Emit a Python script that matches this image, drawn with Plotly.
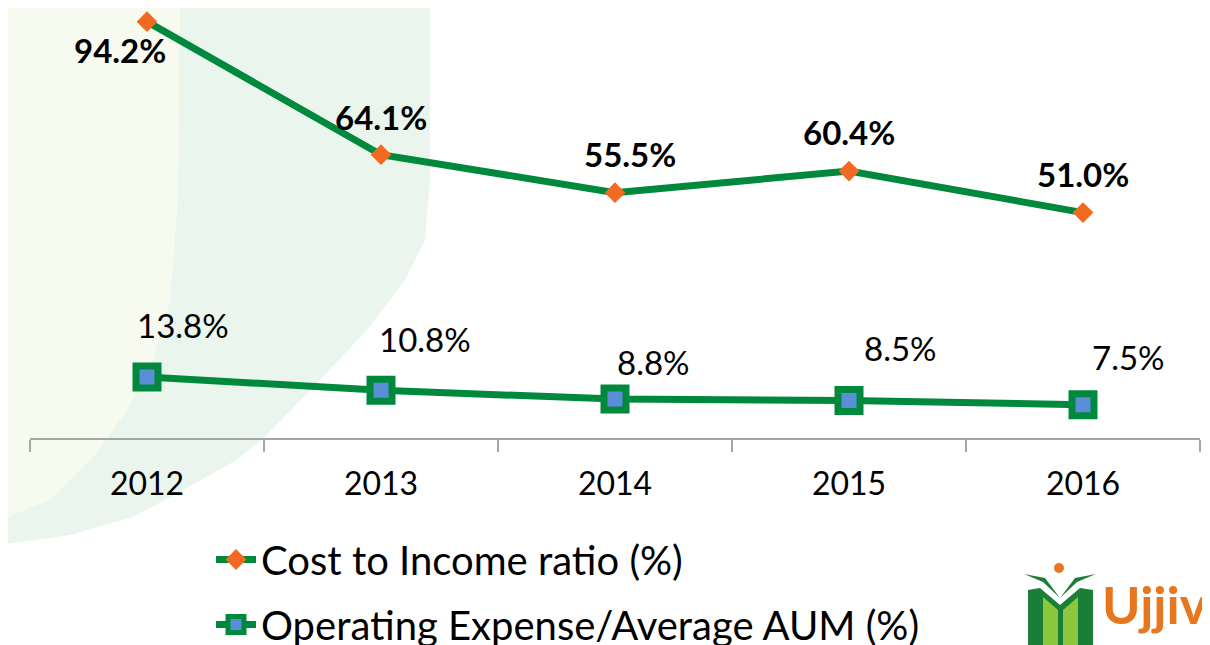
import plotly.graph_objects as go

years = ["2012", "2013", "2014", "2015", "2016"]
cost_to_income = [94.2, 64.1, 55.5, 60.4, 51.0]
opex_aum = [13.8, 10.8, 8.8, 8.5, 7.5]
series_names = ["Cost to Income ratio (%)", "Operating Expense/Average AUM (%)"]

cost_label_offsets = [(-27, -28), (0, 38), (15, 39), (0, 39), (0, 39)]
opex_label_offsets = [(36, 52), (44, 51), (38, 37), (51, 52), (45, 48)]

GREEN = "#00893C"
ORANGE = "#F26A21"
BLUE = "#5A8ED6"
FONT = "Lato"

# page body has an 8px margin; work in page pixel coords and shift
OFF = 8
W, H = 1210 - OFF, 645 - OFF
PL, PR, PT, PB = 30, 1200, 8, 438  # plot area in page pixels
L, R, T, B = PL - OFF, (W + OFF) - PR, PT - OFF, (H + OFF) - PB
YMAX = (PB - PT) / 4.42


def px(x):
    return (x - PL) / (PR - PL)


def py(y):
    return (PB - y) / (PB - PT)


fig = go.Figure()
fig.add_trace(go.Scatter(
    x=years, y=cost_to_income, name=series_names[0], mode="lines+markers",
    line=dict(color=GREEN, width=7),
    marker=dict(symbol="diamond", size=16, color=ORANGE, line=dict(width=0)),
    legendgroup="a",
))
fig.add_trace(go.Scatter(
    x=years, y=opex_aum, name=series_names[1], mode="lines+markers",
    line=dict(color=GREEN, width=7),
    marker=dict(symbol="square", size=22, color=BLUE, line=dict(color=GREEN, width=7)),
    legendgroup="b",
))

annotations = []
for i, (v, (dx, dy)) in enumerate(zip(cost_to_income, cost_label_offsets)):
    annotations.append(dict(x=i, y=v, xref="x", yref="y", text=f"<b>{v:.1f}%</b>",
                            showarrow=False, xshift=dx, yshift=dy,
                            font=dict(family=FONT, size=33, color="black")))
for i, (v, (dx, dy)) in enumerate(zip(opex_aum, opex_label_offsets)):
    annotations.append(dict(x=i, y=v, xref="x", yref="y", text=f"{v:.1f}%",
                            showarrow=False, xshift=dx, yshift=dy,
                            font=dict(family=FONT, size=33, color="black")))

# logo text (partially cut at right edge)
annotations.append(dict(x=px(1100), y=py(604), xref="paper", yref="paper", xanchor="left",
                        yanchor="middle", text="<b>Ujjivan</b>", showarrow=False,
                        font=dict(family=FONT, size=52, color="#E8761E")))
annotations.append(dict(x=px(1102), y=py(638), xref="paper", yref="paper", xanchor="left",
                        yanchor="top", text="<b>Build a Better Life</b>", showarrow=False,
                        font=dict(family=FONT, size=16, color="#E8761E")))

shapes = []


def path_from(points):
    return "M " + " L ".join(f"{px(x)},{py(y)}" for x, y in points) + " Z"


mint = [(0, 0), (430, 0), (430, 180), (425, 240), (405, 280), (367, 330), (320, 380),
        (263, 439), (233, 462), (180, 492), (133, 517), (70, 535), (0, 545)]
shapes.append(dict(type="path", xref="paper", yref="paper", path=path_from(mint),
                   fillcolor="#EAF5EE", line=dict(width=0), layer="below"))
pale = [(0, 0), (180, 0), (178, 200), (170, 300), (150, 370), (127, 410), (95, 455),
        (50, 500), (0, 520)]
shapes.append(dict(type="path", xref="paper", yref="paper", path=path_from(pale),
                   fillcolor="#F7FBEF", line=dict(width=0), layer="below"))

# logo icon
DG, LG = "#1B7E36", "#8DC63F"
shapes.append(dict(type="path", xref="paper", yref="paper",
                   path=path_from([(1028, 590), (1040, 588), (1060, 605), (1080, 588),
                                   (1093, 590), (1093, 650), (1028, 650)]),
                   fillcolor=DG, line=dict(width=0)))
shapes.append(dict(type="path", xref="paper", yref="paper",
                   path=path_from([(1043, 597), (1058, 610), (1058, 650), (1043, 650)]),
                   fillcolor=LG, line=dict(width=0)))
shapes.append(dict(type="path", xref="paper", yref="paper",
                   path=path_from([(1078, 597), (1063, 610), (1063, 650), (1078, 650)]),
                   fillcolor=LG, line=dict(width=0)))
shapes.append(dict(type="path", xref="paper", yref="paper",
                   path=path_from([(1024, 574), (1045, 578), (1060, 598), (1043, 582)]),
                   fillcolor=DG, line=dict(width=0)))
shapes.append(dict(type="path", xref="paper", yref="paper",
                   path=path_from([(1096, 574), (1075, 578), (1060, 598), (1077, 582)]),
                   fillcolor=DG, line=dict(width=0)))
shapes.append(dict(type="circle", xref="paper", yref="paper",
                   x0=px(1054), x1=px(1064), y0=py(563), y1=py(573),
                   fillcolor="#E8761E", line=dict(width=0)))

fig.update_layout(
    width=W, height=H,
    margin=dict(l=L, r=R, t=T, b=B, pad=0, autoexpand=False),
    paper_bgcolor="white", plot_bgcolor="rgba(0,0,0,0)",
    showlegend=True,
    legend=dict(x=px(211), y=py(527), xanchor="left", yanchor="top",
                orientation="v", font=dict(family=FONT, size=40, color="black"),
                bgcolor="rgba(0,0,0,0)", tracegroupgap=10, itemwidth=40),
    annotations=annotations, shapes=shapes,
    font=dict(family=FONT),
)
fig.update_xaxes(type="category", range=[-0.5, 4.5], showline=True, linecolor="#A6A6A6",
                 linewidth=2, ticks="outside", tickson="boundaries", ticklen=12,
                 tickcolor="#A6A6A6", tickwidth=2, showgrid=False,
                 tickfont=dict(family=FONT, size=32, color="black"),
                 ticklabelstandoff=17)
fig.update_yaxes(range=[0, YMAX], showticklabels=False, showline=False, ticks="",
                 showgrid=False, zeroline=False)

fig.write_html("out.html")
